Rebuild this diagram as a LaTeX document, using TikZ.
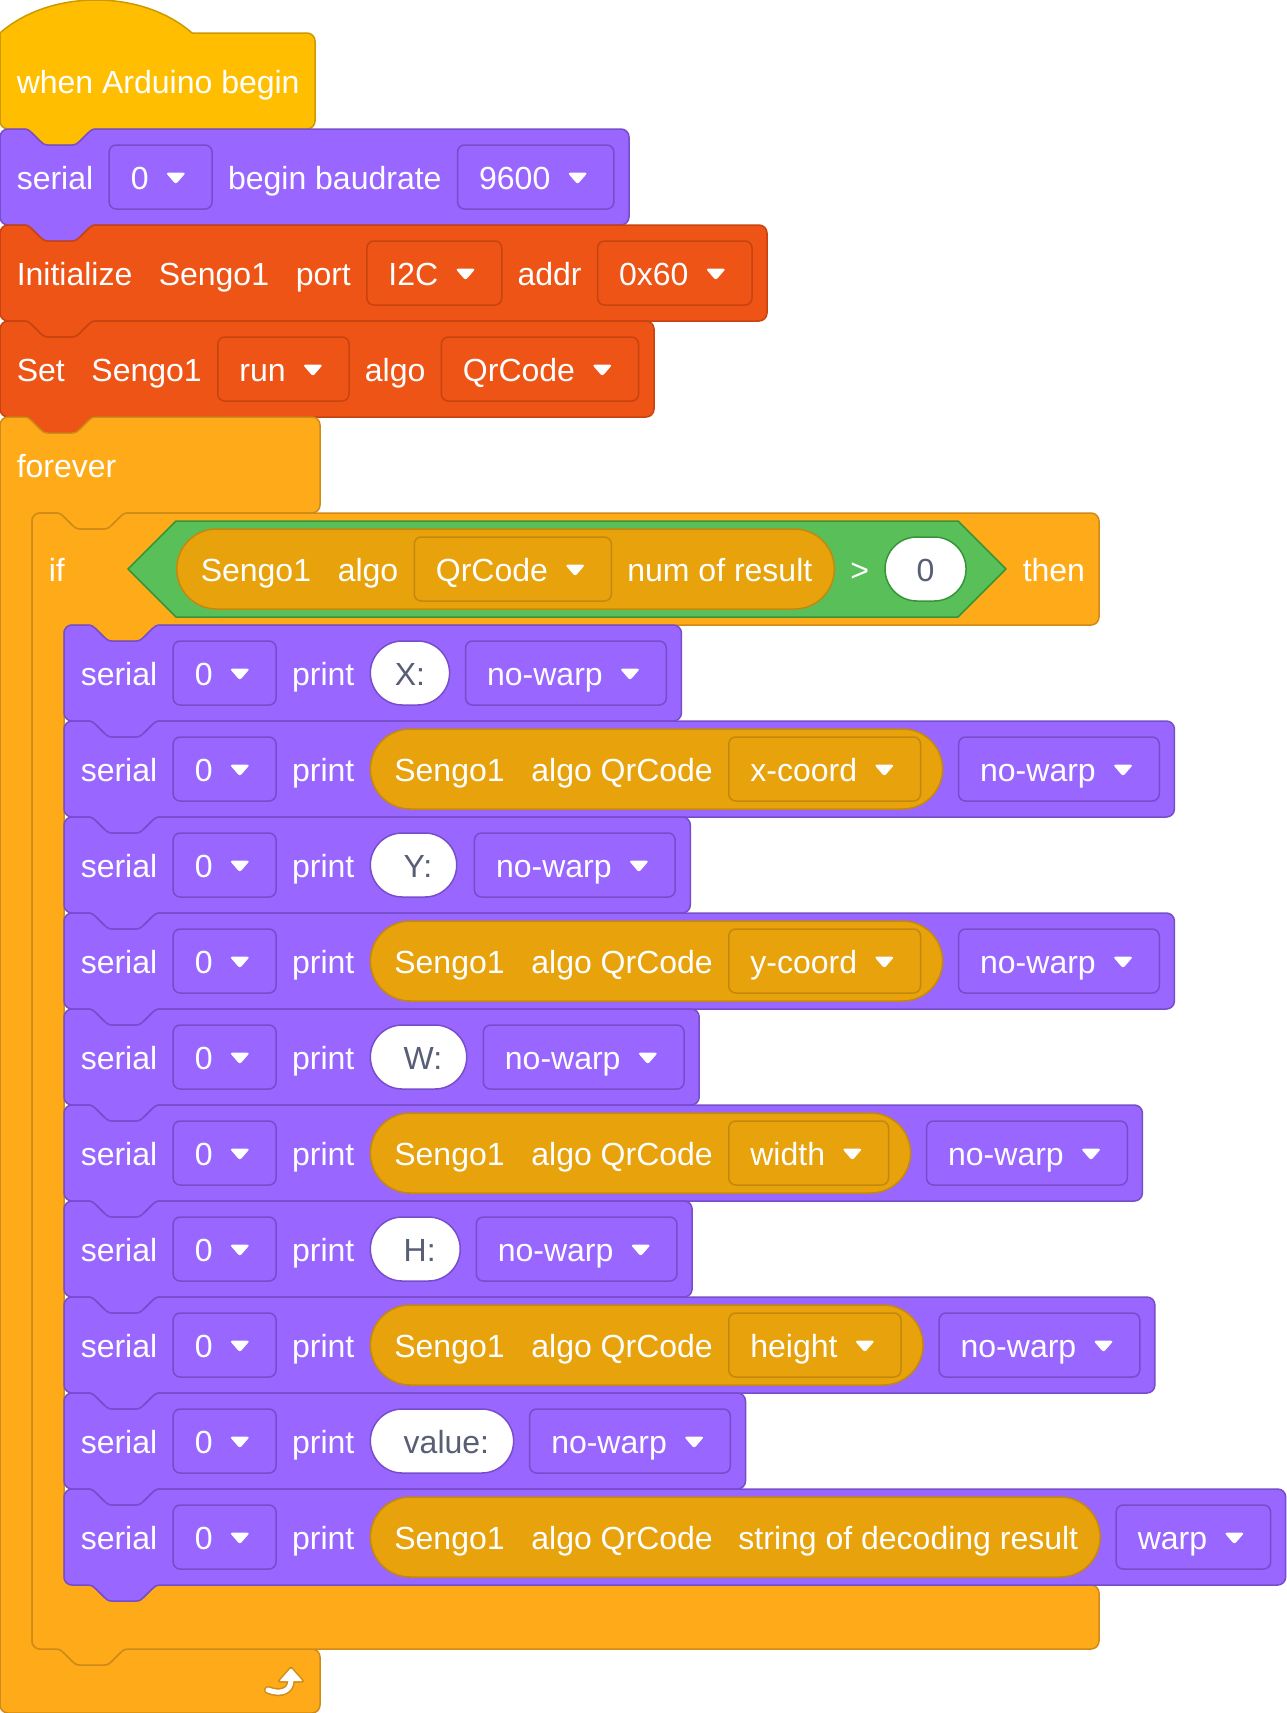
\documentclass[tikz,border=0pt]{standalone}
\usepackage{fontspec}
\setmainfont{Liberation Sans}
\definecolor{hatY}{HTML}{FFBF00}\definecolor{hatYd}{HTML}{CC9900}
\definecolor{pur}{HTML}{9966FF}\definecolor{purd}{HTML}{774DCB}
\definecolor{sred}{HTML}{ED5416}\definecolor{sredd}{HTML}{C8430F}
\definecolor{ctl}{HTML}{FFAB19}\definecolor{ctld}{HTML}{CF8B17}
\definecolor{grn}{HTML}{59C059}\definecolor{grnd}{HTML}{389438}
\definecolor{gold}{HTML}{E7A20C}\definecolor{goldd}{HTML}{C4890C}
\definecolor{gtxt}{HTML}{575E75}
\newcommand{\blkfont}{\fontsize{32}{38}\selectfont}
% stack block: #1 fill, #2 draw, #3 left, #4 top, #5 width, #6 height
\newcommand{\stackblk}[6]{%
\begin{scope}[shift={(#3,#4)}]
\filldraw[fill=#1, draw=#2] (0,8) .. controls (0,3.6) and (3.6,0) .. (8,0) -- (24,0) .. controls (28,0) and (30,2) .. (32,4) -- (40,12) .. controls (42,14) and (44,16) .. (48,16) -- (72,16) .. controls (76,16) and (78,14) .. (80,12) -- (88,4) .. controls (90,2) and (92,0) .. (96,0) -- ({#5-8},0) .. controls ({#5-3.6},0) and (#5,3.6) .. (#5,8) -- (#5,{#6-8}) .. controls (#5,{#6-3.6}) and ({#5-3.6},#6) .. ({#5-8},#6) -- (96,#6) .. controls (92,#6) and (90,{#6+2}) .. (88,{#6+4}) -- (80,{#6+12}) .. controls (78,{#6+14}) and (76,{#6+16}) .. (72,{#6+16}) -- (48,{#6+16}) .. controls (44,{#6+16}) and (42,{#6+14}) .. (40,{#6+12}) -- (32,{#6+4}) .. controls (30,{#6+2}) and (28,#6) .. (24,#6) -- (8,#6) .. controls (3.6,#6) and (0,{#6-3.6}) .. (0,{#6-8}) -- cycle;
\end{scope}}
% dropdown: #1 style, #2 name, #3 x, #4 y, #5 text
\newcommand{\dropd}[5]{%
\node[#1] (#2) at (#3,#4) {\hspace*{21.6pt}#5\hspace*{63.5pt}};
\pic at ([xshift=-37pt,yshift=-1.5pt]#2.east) {ddarrow};}
% serial ... print prefix: #1 name prefix, #2 centre y
\newcommand{\prow}[2]{%
\node[lbl] (#1s) at (80,#2) {serial};
\dropd{ddp}{#1d}{172.4}{#2}{0}
\node[lbl] (#1p) at (291.3,#2) {print};}
\begin{document}
\begin{tikzpicture}[x=1pt,y=-1pt,font=\blkfont,line width=1.5pt,line join=round,
 lbl/.style={anchor=west,inner sep=0pt,text=white,text height=24pt,text depth=0pt},
 ddbase/.style={anchor=west,inner sep=0pt,minimum height=64pt,rounded corners=7pt,text=white,text height=24pt,text depth=0pt},
 ddp/.style={ddbase,fill=pur,draw=purd},
 ddr/.style={ddbase,fill=sred,draw=sredd},
 ddg/.style={ddbase,fill=gold,draw=goldd},
 ovl/.style={anchor=west,fill=white,draw=#1,rounded corners=31.9pt,minimum height=64pt,minimum width=78pt,inner xsep=24.5pt,inner ysep=0pt,text=gtxt,text height=24pt,text depth=0pt},
 rep/.style={anchor=west,fill=gold,draw=goldd,rounded corners=39.9pt,minimum height=80pt,inner sep=0pt},
 ddarrow/.pic={\fill[white,rounded corners=2.5pt] (-10,-5.8) -- (10,-5.8) -- (0,5.8) -- cycle;}
]
\fill[white] (0,0) rectangle (1287,1713);
\useasboundingbox (0,0) rectangle (1287,1713);

% ---- hat block
\begin{scope}[shift={(0,33)}]
\filldraw[fill=hatY,draw=hatYd] (0,0) .. controls (50,-44) and (142,-44) .. (192,0) -- (307,0) .. controls (311.4,0) and (315,3.6) .. (315,8) -- (315,88) .. controls (315,92.4) and (311.4,96) .. (307,96) -- (96,96) .. controls (92,96) and (90,98) .. (88,100) -- (80,108) .. controls (78,110) and (76,112) .. (72,112) -- (48,112) .. controls (44,112) and (42,110) .. (40,108) -- (32,100) .. controls (30,98) and (28,96) .. (24,96) -- (8,96) .. controls (3.6,96) and (0,92.4) .. (0,88) -- cycle;
\end{scope}
\node[lbl] (hat) at (16,81) {when Arduino begin};

% ---- serial begin
\stackblk{pur}{purd}{0}{129}{629}{96}
\node[lbl] (sb1) at (16,177) {serial};
\dropd{ddp}{sb2}{108.4}{177}{0}
\node[lbl] (sb3) at (227.3,177) {begin baudrate};
\dropd{ddp}{sb4}{456.8}{177}{9600}

% ---- initialize
\stackblk{sred}{sredd}{0}{225}{767}{96}
\node[lbl] (in1) at (16,273) {Initialize};
\node[lbl] (in2) at (158,273) {Sengo1};
\node[lbl] (in3) at (295,273) {port};
\dropd{ddr}{in4}{366.1}{273}{I2C}
\node[lbl] (in5) at (516.8,273) {addr};
\dropd{ddr}{in6}{596.8}{273}{0x60}

% ---- set
\stackblk{sred}{sredd}{0}{321}{654}{96}
\node[lbl] (st1) at (16,369) {Set};
\node[lbl] (st2) at (90.7,369) {Sengo1};
\dropd{ddr}{st3}{217}{369}{run}
\node[lbl] (st4) at (364.1,369) {algo};
\dropd{ddr}{st5}{440.6}{369}{QrCode}

% ---- forever
\begin{scope}[shift={(0,417)}]
\filldraw[fill=ctl,draw=ctld] (0,8) .. controls (0,3.6) and (3.6,0) .. (8,0) -- (24,0) .. controls (28,0) and (30,2) .. (32,4) -- (40,12) .. controls (42,14) and (44,16) .. (48,16) -- (72,16) .. controls (76,16) and (78,14) .. (80,12) -- (88,4) .. controls (90,2) and (92,0) .. (96,0) -- (312,0) .. controls (316.4,0) and (320,3.6) .. (320,8) -- (320,88) .. controls (320,92.4) and (316.4,96) .. (312,96) -- (128,96) .. controls (124,96) and (122,98) .. (120,100) -- (112,108) .. controls (110,110) and (108,112) .. (104,112) -- (80,112) .. controls (76,112) and (74,110) .. (72,108) -- (64,100) .. controls (62,98) and (60,96) .. (56,96) -- (40,96) .. controls (35.6,96) and (32,99.6) .. (32,104) -- (32,1224) .. controls (32,1228.4) and (35.6,1232) .. (40,1232) -- (56,1232) .. controls (60,1232) and (62,1234) .. (64,1236) -- (72,1244) .. controls (74,1246) and (76,1248) .. (80,1248) -- (104,1248) .. controls (108,1248) and (110,1246) .. (112,1244) -- (120,1236) .. controls (122,1234) and (124,1232) .. (128,1232) -- (312,1232) .. controls (316.4,1232) and (320,1235.6) .. (320,1240) -- (320,1288) .. controls (320,1292.4) and (316.4,1296) .. (312,1296) -- (8,1296) .. controls (3.6,1296) and (0,1292.4) .. (0,1288) -- cycle;
\end{scope}
\node[lbl] (fv) at (16,465) {forever};
% loop arrow
\draw[ctld,line width=8pt,line cap=round] (268,1690) .. controls (281,1695) and (291,1691) .. (291,1680);
\filldraw[fill=ctld,draw=ctld,line width=3pt] (279.5,1681) -- (291,1668) -- (302.5,1681) -- cycle;
\draw[white,line width=5pt,line cap=round] (268,1690) .. controls (281,1695) and (291,1691) .. (291,1680);
\fill[white,rounded corners=1pt] (279.5,1681) -- (291,1668) -- (302.5,1681) -- cycle;

% ---- if
\begin{scope}[shift={(32,513)}]
\filldraw[fill=ctl,draw=ctld] (0,8) .. controls (0,3.6) and (3.6,0) .. (8,0) -- (24,0) .. controls (28,0) and (30,2) .. (32,4) -- (40,12) .. controls (42,14) and (44,16) .. (48,16) -- (72,16) .. controls (76,16) and (78,14) .. (80,12) -- (88,4) .. controls (90,2) and (92,0) .. (96,0) -- (1059,0) .. controls (1063.4,0) and (1067,3.6) .. (1067,8) -- (1067,104) .. controls (1067,108.4) and (1063.4,112) .. (1059,112) -- (128,112) .. controls (124,112) and (122,114) .. (120,116) -- (112,124) .. controls (110,126) and (108,128) .. (104,128) -- (80,128) .. controls (76,128) and (74,126) .. (72,124) -- (64,116) .. controls (62,114) and (60,112) .. (56,112) -- (40,112) .. controls (35.6,112) and (32,115.6) .. (32,120) -- (32,1064) .. controls (32,1068.4) and (35.6,1072) .. (40,1072) -- (56,1072) .. controls (60,1072) and (62,1074) .. (64,1076) -- (72,1084) .. controls (74,1086) and (76,1088) .. (80,1088) -- (104,1088) .. controls (108,1088) and (110,1086) .. (112,1084) -- (120,1076) .. controls (122,1074) and (124,1072) .. (128,1072) -- (1059,1072) .. controls (1063.4,1072) and (1067,1075.6) .. (1067,1080) -- (1067,1128) .. controls (1067,1132.4) and (1063.4,1136) .. (1059,1136) -- (96,1136) .. controls (92,1136) and (90,1138) .. (88,1140) -- (80,1148) .. controls (78,1150) and (76,1152) .. (72,1152) -- (48,1152) .. controls (44,1152) and (42,1150) .. (40,1148) -- (32,1140) .. controls (30,1138) and (28,1136) .. (24,1136) -- (8,1136) .. controls (3.6,1136) and (0,1132.4) .. (0,1128) -- cycle;
\end{scope}
\node[lbl] (if) at (48,569) {if};
\filldraw[fill=grn,draw=grnd] (128,569) -- (176,521) -- (958,521) -- (1006,569) -- (958,617) -- (176,617) -- cycle;
\node[rep,minimum width=657.6pt] (ifr) at (176,569) {};
\node[lbl] (if1) at (200,569) {Sengo1};
\node[lbl] (if2) at (337,569) {algo};
\dropd{ddg}{if3}{413.5}{569}{QrCode}
\node[lbl] (if4) at (626.6,569) {num of result};
\node[lbl] (if5) at (849.6,569) {>};
\node[ovl=grnd,minimum width=81pt,inner xsep=0pt] (if6) at (884.3,569) {0};
\node[lbl] (if7) at (1022,569) {then};

% ---- row 1
\stackblk{pur}{purd}{64}{625}{617.4}{96}
\prow{a}{673}
\node[ovl=purd] (ai) at (369.6,673) {X:};
\dropd{ddp}{aw}{464.8}{673}{no-warp}
% ---- row 2
\stackblk{pur}{purd}{64}{721}{1110.4}{96}
\prow{b}{769}
\node[rep,minimum width=572.2pt] (br) at (369.6,769) {};
\node[lbl] (b1) at (393.6,769) {Sengo1};
\node[lbl] (b2) at (530.6,769) {algo QrCode};
\dropd{ddg}{b3}{728}{769}{x-coord}
\dropd{ddp}{bw}{957.8}{769}{no-warp}
% ---- row 3
\stackblk{pur}{purd}{64}{817}{626.3}{96}
\prow{c}{865}
\node[ovl=purd] (ci) at (369.6,865) {\ Y:};
\dropd{ddp}{cw}{473.7}{865}{no-warp}
% ---- row 4
\stackblk{pur}{purd}{64}{913}{1110.4}{96}
\prow{d}{961}
\node[rep,minimum width=572.2pt] (dr) at (369.6,961) {};
\node[lbl] (d1) at (393.6,961) {Sengo1};
\node[lbl] (d2) at (530.6,961) {algo QrCode};
\dropd{ddg}{d3}{728}{961}{y-coord}
\dropd{ddp}{dw}{957.8}{961}{no-warp}
% ---- row 5
\stackblk{pur}{purd}{64}{1009}{635.2}{96}
\prow{e}{1057}
\node[ovl=purd] (ei) at (369.6,1057) {\ W:};
\dropd{ddp}{ew}{482.6}{1057}{no-warp}
% ---- row 6
\stackblk{pur}{purd}{64}{1105}{1078.4}{96}
\prow{f}{1153}
\node[rep,minimum width=540.2pt] (fr) at (369.6,1153) {};
\node[lbl] (f1) at (393.6,1153) {Sengo1};
\node[lbl] (f2) at (530.6,1153) {algo QrCode};
\dropd{ddg}{f3}{728}{1153}{width}
\dropd{ddp}{fw}{925.8}{1153}{no-warp}
% ---- row 7
\stackblk{pur}{purd}{64}{1201}{628.1}{96}
\prow{g}{1249}
\node[ovl=purd] (gi) at (369.6,1249) {\ H:};
\dropd{ddp}{gw}{475.5}{1249}{no-warp}
% ---- row 8
\stackblk{pur}{purd}{64}{1297}{1090.9}{96}
\prow{h}{1345}
\node[rep,minimum width=552.7pt] (hr) at (369.6,1345) {};
\node[lbl] (h1) at (393.6,1345) {Sengo1};
\node[lbl] (h2) at (530.6,1345) {algo QrCode};
\dropd{ddg}{h3}{728}{1345}{height}
\dropd{ddp}{hw}{938.3}{1345}{no-warp}
% ---- row 9
\stackblk{pur}{purd}{64}{1393}{681.5}{96}
\prow{i}{1441}
\node[ovl=purd] (ii) at (369.6,1441) {\ value:};
\dropd{ddp}{iw}{528.9}{1441}{no-warp}
% ---- row 10
\stackblk{pur}{purd}{64}{1489}{1221.7}{96}
\prow{j}{1537}
\node[rep,minimum width=729.8pt] (jr) at (369.6,1537) {};
\node[lbl] (j1) at (393.6,1537) {Sengo1};
\node[lbl] (j2) at (530.6,1537) {algo QrCode};
\node[lbl] (j3) at (737.7,1537) {string of decoding result};
\dropd{ddp}{jw}{1115.4}{1537}{warp}
\end{tikzpicture}
\end{document}
